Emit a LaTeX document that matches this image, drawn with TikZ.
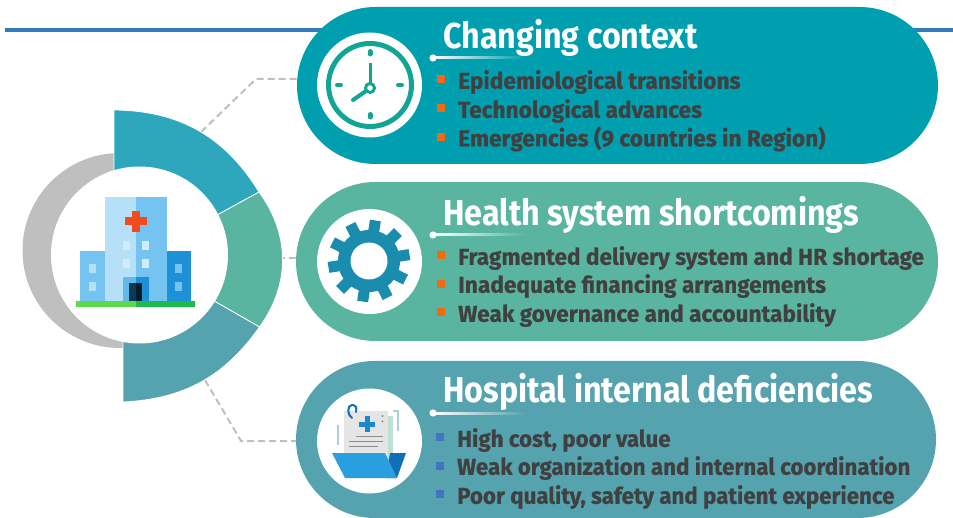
\documentclass[tikz,border=0pt]{standalone}
\usepackage{fontspec}
\setmainfont{Fira Sans}
\newfontfamily\headfont[FakeStretch=0.896]{Fira Sans}
\newfontfamily\itemfont[FakeStretch=0.985, BoldFeatures={FakeBold=0.5, FakeStretch=0.985}]{Fira Sans}
\usetikzlibrary{shapes.misc}

\definecolor{pillone}{HTML}{009FB0}
\definecolor{pilltwo}{HTML}{5AB5A0}
\definecolor{pillthree}{HTML}{55A3AF}
\definecolor{segone}{HTML}{2EA6BB}
\definecolor{ringgrey}{HTML}{BFBFBF}
\definecolor{itemgrey}{HTML}{404040}
\definecolor{clockgreen}{HTML}{12A594}
\definecolor{gearblue}{HTML}{1A8CAE}
\definecolor{orangebul}{HTML}{F26A0F}
\definecolor{bluebul}{HTML}{4472C4}
\definecolor{towerl}{HTML}{B5E0F8}
\definecolor{towerr}{HTML}{74C3F0}
\definecolor{wingr}{HTML}{1E90D5}
\definecolor{baseone}{HTML}{5ADB4A}
\definecolor{basetwo}{HTML}{1EBB4A}
\definecolor{crossred}{HTML}{F04A1E}
\definecolor{folderl}{HTML}{2A9FE0}
\definecolor{folderr}{HTML}{0F6FB8}

\tikzset{
  pill/.style={draw=none, shape=rounded rectangle, inner sep=0pt},
  head/.style={anchor=west, inner sep=0pt, text=white, font=\headfont\bfseries\fontsize{36}{36}\selectfont},
  item/.style={anchor=west, inner sep=0pt, text=itemgrey, font=\itemfont\bfseries\fontsize{23}{23}\selectfont},
  itemnarrow/.style={item, xscale=0.985, transform shape},
  badge/.style={fill=white, shape=circle, inner sep=0pt, minimum size=105pt},
  link/.style={draw=ringgrey, line width=2pt, dash pattern=on 7pt off 4pt},
  seg/.style={draw=white, line width=0.8pt},
  tooth/.style={fill=gearblue, shift={(369,261)}}
}

\begin{document}
\begin{tikzpicture}[x=1pt, y=-1pt]
  \useasboundingbox (0, 0) rectangle (953, 518);

  % top rule
  \coordinate (ruleL) at (5, 30);
  \coordinate (ruleR) at (953, 30);
  \draw[line width=4pt, color=bluebul!60!gearblue] (ruleL) -- (ruleR);

  % the three pills
  \node[pill, fill=pillone, minimum width=641pt, minimum height=157pt] (changing) at (617.5, 85.5) {};
  \node[pill, fill=pilltwo, minimum width=642pt, minimum height=159pt] (shortcomings) at (617, 261.5) {};
  \node[pill, fill=pillthree, minimum width=640pt, minimum height=157pt] (deficiencies) at (616, 439.5) {};

  % dashed links
  \coordinate (linkA) at (201, 132);
  \coordinate (bendA) at (256, 79);
  \coordinate (linkB) at (278, 258);
  \coordinate (linkC) at (205, 380);
  \coordinate (bendC) at (241, 441);
  \draw[link] (linkA) -- (bendA) -- (changing.west |- bendA);
  \draw[link] (linkB) -- (shortcomings.west |- linkB);
  \draw[link] (linkC) -- (bendC) -- (deficiencies.west |- bendC);

  % ring
  \fill[ringgrey] (120, 250.5) circle (97.5);
  \draw[seg, fill=segone] (114, 110) to[bend left=29] (259, 192) -- (139, 258) -- (114, 200) -- cycle;
  \draw[seg, fill=pilltwo] (259, 192) to[bend left=36] (259.5, 327) -- (139, 258) -- cycle;
  \draw[seg, fill=pillthree] (259.5, 327) to[bend left=26] (123, 402) -- (123, 300) -- (139, 258) -- cycle;
  \node[fill=white, shape=circle, inner sep=0pt, minimum size=177pt] (hub) at (139.5, 255) {};

  % hospital
  \fill[towerl] (105, 197) rectangle (135.7, 300.7);
  \fill[towerr] (135.7, 197) rectangle (166.7, 300.7);
  \fill[towerr] (80, 251) rectangle (105, 300.7);
  \fill[wingr] (166.7, 251) rectangle (191.3, 300.7);
  \fill[baseone] (76, 300.7) rectangle (135.7, 307);
  \fill[basetwo] (135.7, 300.7) rectangle (195, 307);
  \fill[crossred] (132, 211) rectangle (139.5, 232);
  \fill[crossred] (124.5, 217.5) rectangle (147, 225);
  \fill[towerr!80!wingr] (122.7, 276.7) rectangle (135.7, 300.7);
  \fill[wingr] (135.7, 276.7) rectangle (149, 300.7);
  \fill[wingr!40!black] (129.3, 282.7) rectangle (135.7, 300.7);
  \fill[wingr!20!black] (135.7, 282.7) rectangle (142.3, 300.7);
  \fill[towerl!60!white] (122.7, 241) rectangle (129.7, 250);
  \fill[towerl!60!white] (142, 241) rectangle (149, 250);
  \fill[towerl!60!white] (122.7, 259.3) rectangle (129.7, 268.3);
  \fill[towerl!60!white] (142, 259.3) rectangle (149, 268.3);
  \fill[towerl] (89, 263.7) rectangle (96.3, 273);
  \fill[towerl] (89, 282) rectangle (96.3, 291.3);
  \fill[towerr] (175.3, 263.7) rectangle (182.3, 273);
  \fill[towerr] (175.3, 282) rectangle (182.3, 291.3);

  % clock
  \node[badge] (clockbg) at (369.5, 85) {};
  \draw[clockgreen, line width=5pt] (370, 85) circle (41.5);
  \draw[clockgreen, line width=5pt, line cap=round] (370, 51.5) -- (370, 54);
  \draw[clockgreen, line width=5pt, line cap=round] (370, 114.5) -- (370, 117);
  \draw[clockgreen, line width=4pt, line cap=round] (337, 85) -- (341, 85);
  \draw[clockgreen, line width=4pt, line cap=round] (398, 85) -- (402, 85);
  \draw[clockgreen, line width=3pt] (370, 83) -- (370, 63);
  \draw[clockgreen, line width=4pt, line cap=round] (366, 91) -- (353, 100);
  \draw[clockgreen, line width=3pt, fill=white] (370, 88) circle (4.5);

  % gear
  \node[badge] (gearbg) at (369.5, 261.5) {};
  \fill[gearblue] (369, 261) circle (31);
  \fill[tooth, rotate=81] (28, -5.5) rectangle (41, 5.5);
  \fill[tooth, rotate=45] (28, -5.5) rectangle (41, 5.5);
  \fill[tooth, rotate=9] (28, -5.5) rectangle (41, 5.5);
  \fill[tooth, rotate=-27] (28, -5.5) rectangle (41, 5.5);
  \fill[tooth, rotate=-63] (28, -5.5) rectangle (41, 5.5);
  \fill[tooth, rotate=-99] (28, -5.5) rectangle (41, 5.5);
  \fill[tooth, rotate=-135] (28, -5.5) rectangle (41, 5.5);
  \fill[tooth, rotate=-171] (28, -5.5) rectangle (41, 5.5);
  \fill[tooth, rotate=153] (28, -5.5) rectangle (41, 5.5);
  \fill[tooth, rotate=117] (28, -5.5) rectangle (41, 5.5);
  \fill[white] (369, 261) circle (18.5);

  % folder
  \node[badge] (folderbg) at (369.5, 441) {};
  \fill[black!10] (344, 411) rectangle (388, 458);
  \fill[pilltwo!40] (388, 416) rectangle (393, 462);
  \fill[folderl!50!folderr] (364.5, 416) rectangle (369.5, 432);
  \fill[folderl!50!folderr] (359, 421.5) rectangle (375, 426.5);
  \fill[black!45] (382.5, 416) circle (1.2);
  \fill[black!45] (382.5, 421.5) circle (1.2);
  \draw[black!45, line width=1.5pt] (356, 436.5) -- (383, 436.5);
  \draw[black!45, line width=1.5pt] (349, 441.5) -- (383, 441.5);
  \draw[black!45, line width=1.5pt] (349, 446.5) -- (378, 446.5);
  \draw[folderr, line width=2pt, line cap=round] (352, 418) .. controls (347, 415) and (347, 405) .. (352, 405) .. controls (356, 405) and (357, 408) .. (356, 412);
  \draw[pillthree!50, line width=1.5pt] (393, 411) -- (398, 411) -- (398, 431);
  \draw[pillthree!50, line width=1.5pt] (338, 425) -- (338, 445);
  \fill[folderr] (390, 453) -- (406, 453) -- (397, 478) -- (386, 478) -- cycle;
  \fill[folderl] (332, 453) -- (385, 453) -- (397, 478) -- (345, 478) -- cycle;

  % titles
  \node[head] (headA) at (443, 37.5) {Changing context};
  \node[head] (headB) at (443, 214.5) {Health system shortcomings};
  \node[head] (headC) at (443, 391.5) {Hospital internal deficiencies};

  % underlines
  \shade[left color=white, right color=pillone] (433, 57) rectangle (525, 59);
  \shade[left color=white, right color=pilltwo] (433, 234) rectangle (525, 236);
  \shade[left color=white, right color=pillthree] (433, 412) rectangle (525, 414);
  \fill[white] (433, 58) circle (3.6);
  \fill[white] (433, 235) circle (3.6);
  \fill[white] (433, 413) circle (3.6);

  % items
  \node[item] (itemAa) at (458, 82) {Epidemiological transitions};
  \node[item] (itemAb) at (458, 111) {Technological advances};
  \node[item] (itemAc) at (458, 139) {Emergencies (9 countries in Region)};
  \node[item] (itemBa) at (458, 258) {Fragmented delivery system and HR shortage};
  \node[item] (itemBb) at (458, 286) {Inadequate financing arrangements};
  \node[item] (itemBc) at (458, 315) {Weak governance and accountability};
  \node[itemnarrow] (itemCa) at (457, 440) {High cost, poor value};
  \node[itemnarrow] (itemCb) at (457, 468) {Weak organization and internal coordination};
  \node[itemnarrow] (itemCc) at (457, 497) {Poor quality, safety and patient experience};

  % bullets
  \fill[orangebul] (437, 75) rectangle (445, 83);
  \fill[orangebul] (437, 104) rectangle (445, 112);
  \fill[orangebul] (437, 133) rectangle (445, 141);
  \fill[orangebul] (437, 251) rectangle (445, 259);
  \fill[orangebul] (437, 280) rectangle (445, 288);
  \fill[orangebul] (437, 308) rectangle (445, 316);
  \fill[bluebul] (435.5, 433) rectangle (443.5, 441);
  \fill[bluebul] (435.5, 462) rectangle (443.5, 470);
  \fill[bluebul] (435.5, 490) rectangle (443.5, 498);

\end{tikzpicture}
\end{document}
